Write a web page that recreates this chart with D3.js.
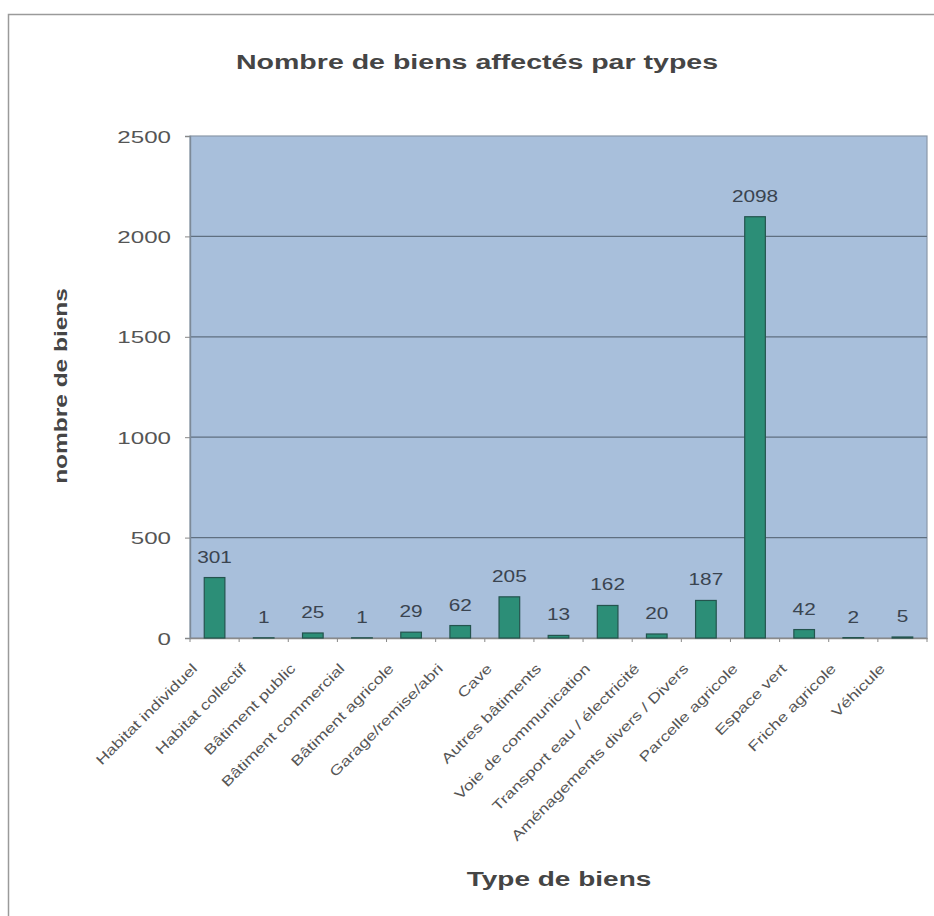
<!DOCTYPE html>
<html><head><meta charset="utf-8">
<script src="https://cdn.jsdelivr.net/npm/d3@7"></script>
<style>body{margin:0;background:#fff}svg{display:block}</style>
</head><body>
<svg id="c" width="934" height="916"></svg>
<script>
const categories = ["Habitat individuel","Habitat collectif","Bâtiment public","Bâtiment commercial","Bâtiment agricole","Garage/remise/abri","Cave","Autres bâtiments","Voie de communication","Transport eau / électricité","Aménagements divers / Divers","Parcelle agricole","Espace vert","Friche agricole","Véhicule"];
const values = [301,1,25,1,29,62,205,13,162,20,187,2098,42,2,5];
const yTicks = [0,500,1000,1500,2000,2500];
const title = "Nombre de biens affectés par types";
const yTitle = "nombre de biens";
const xTitle = "Type de biens";

const svg = d3.select("#c");
const font = "'Liberation Sans', Arial, sans-serif";
const m = {left:190, top:136, right:927, bottom:638};
const SX = 1.3;

svg.append("rect").attr("x",8.5).attr("y",14.5).attr("width",940).attr("height",920)
  .attr("fill","#fff").attr("stroke","#9a9a9a").attr("stroke-width",1.5);

const x = d3.scaleBand().domain(categories).range([m.left,m.right]).paddingInner(0.58).paddingOuter(0.29);
const y = d3.scaleLinear().domain([0,2500]).range([m.bottom,m.top]);

svg.append("rect").attr("x",m.left).attr("y",m.top).attr("width",m.right-m.left).attr("height",m.bottom-m.top)
  .attr("fill","#a8bfdb").attr("stroke","#8a98a8").attr("stroke-width",1.2);

svg.append("g").selectAll("line").data(yTicks.filter(d=>d>0 && d<2500)).join("line")
  .attr("x1",m.left).attr("x2",m.right).attr("y1",d=>y(d)).attr("y2",d=>y(d))
  .attr("stroke","#5f6f80").attr("stroke-width",1.3);

const ya = svg.append("g").attr("transform",`translate(${m.left},0)`)
  .call(d3.axisLeft(y).tickValues(yTicks).tickFormat(d3.format("d")).tickSize(5));
ya.select(".domain").attr("stroke","#7d8a98").attr("stroke-width",1.4);
ya.selectAll(".tick line").attr("stroke","#888");
ya.selectAll(".tick text").attr("font-family",font).attr("font-size",17).attr("fill","#555")
  .attr("x",0).attr("dy","0.36em").attr("text-anchor","end")
  .attr("transform",`translate(-19,0) scale(1.42,1)`);

const step = x.step();
const xa = svg.append("g").attr("transform",`translate(0,${m.bottom})`)
  .call(d3.axisBottom(x).tickSize(0));
xa.select(".domain").attr("stroke","#8a8a8a").attr("stroke-width",1.3);
xa.selectAll(".tick text").attr("font-family",font).attr("font-size",14).attr("fill","#555")
  .attr("text-anchor","end").attr("x",0).attr("y",0).attr("dy","0.35em")
  .attr("transform",`translate(-20,28) rotate(-45) scale(1.28,1)`);
svg.append("g").selectAll("line").data(d3.range(categories.length+1)).join("line")
  .attr("x1",i=>m.left+i*step).attr("x2",i=>m.left+i*step)
  .attr("y1",m.bottom).attr("y2",m.bottom+4).attr("stroke","#888");

svg.append("g").selectAll("rect").data(values).join("rect")
  .attr("x",(d,i)=>x(categories[i])).attr("width",x.bandwidth())
  .attr("y",d=>y(d)).attr("height",d=>m.bottom-y(d))
  .attr("fill","#2c8e77").attr("stroke","#24544e").attr("stroke-width",1.2);

svg.append("g").selectAll("text").data(values).join("text")
  .attr("transform",(d,i)=>`translate(${x(categories[i])+x.bandwidth()/2},${y(d)-15}) scale(${SX},1)`)
  .attr("text-anchor","middle").attr("font-family",font).attr("font-size",16)
  .attr("fill","#3a4450").text(d=>d);

svg.append("text").attr("transform",`translate(477,69) scale(1.36,1)`).attr("text-anchor","middle")
  .attr("font-family",font).attr("font-size",21).attr("font-weight","bold").attr("fill","#454545").text(title);
svg.append("text").attr("transform","translate(67,386) rotate(-90) scale(1.36,1)").attr("text-anchor","middle")
  .attr("font-family",font).attr("font-size",18).attr("font-weight","bold").attr("fill","#454545").text(yTitle);
svg.append("text").attr("transform",`translate(559,886) scale(1.4,1)`).attr("text-anchor","middle")
  .attr("font-family",font).attr("font-size",20).attr("font-weight","bold").attr("fill","#454545").text(xTitle);
</script>
</body></html>
